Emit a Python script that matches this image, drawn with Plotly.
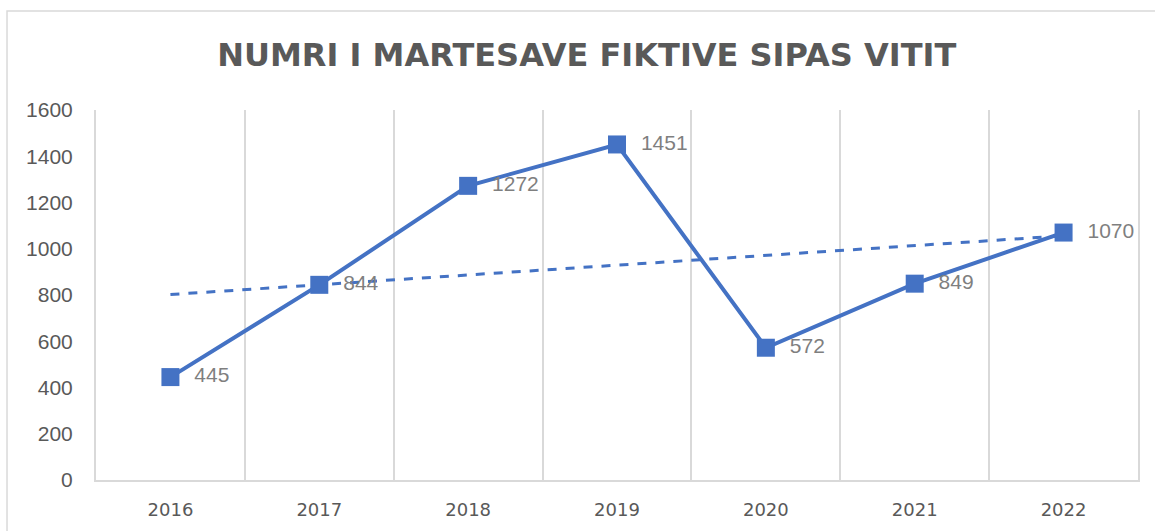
import numpy as np
import plotly.graph_objects as go

years = ["2016", "2017", "2018", "2019", "2020", "2021", "2022"]
counts = [445, 844, 1272, 1451, 572, 849, 1070]
title = "NUMRI I MARTESAVE FIKTIVE SIPAS VITIT"

blue = "#4472C4"
grid = "#D9D9D9"

# linear trendline, like Excel's
idx = np.arange(len(counts))
slope, intercept = np.polyfit(idx, counts, 1)
trend = slope * idx + intercept

fig = go.Figure()
fig.add_trace(go.Scatter(
    x=years, y=trend, mode="lines",
    line=dict(color=blue, width=3, dash="dash"),
    hoverinfo="skip", showlegend=False,
))
fig.add_trace(go.Scatter(
    x=years, y=counts, mode="lines+markers+text",
    line=dict(color=blue, width=4),
    marker=dict(symbol="square", size=18, color=blue),
    text=[f"  {v}" for v in counts],
    textposition="middle right",
    textfont=dict(family="Liberation Sans, Arial, sans-serif", size=21, color="#7F7F7F"),
    cliponaxis=False,
    showlegend=False,
))

fig.update_layout(
    width=1155, height=531,
    margin=dict(l=96, r=17, t=110, b=51),
    paper_bgcolor="white", plot_bgcolor="white",
    title=dict(
        text=title, x=0.508, xref="container", xanchor="center",
        y=0.897, yanchor="middle",
        font=dict(family="DejaVu Sans, sans-serif", size=32, color="#595959", weight="bold"),
    ),
    font=dict(family="Liberation Sans, Arial, sans-serif", color="#595959"),
    shapes=[dict(
        type="rect", xref="paper", yref="paper",
        x0=-0.0854, x1=1.1, y0=-0.3, y1=1.2676,
        line=dict(color=grid, width=1.5), layer="below",
    )],
)
fig.update_xaxes(
    type="category", range=[-0.5, len(years) - 0.5],
    tickson="boundaries", showgrid=True, gridcolor=grid, gridwidth=2,
    showline=True, linecolor=grid, linewidth=2, ticks="",
    ticklabelstandoff=12, tickfont=dict(size=18, family="DejaVu Sans, sans-serif"),
)
fig.update_yaxes(
    range=[0, 1600], dtick=200, showgrid=False, zeroline=False,
    showline=True, mirror=True, linecolor=grid, linewidth=2,
    ticks="", ticklabelstandoff=17, tickfont=dict(size=21),
)

fig.write_html(
    "out.html",
    config={"displayModeBar": False},
    post_script="document.body.style.margin = '0';",
)
